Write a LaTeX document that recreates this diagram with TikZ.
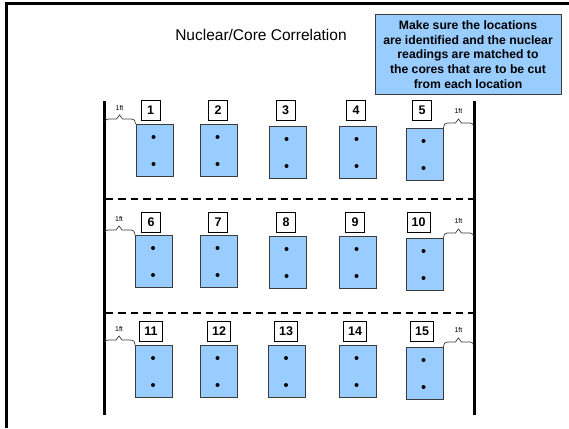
\documentclass[tikz,border=0pt]{standalone}
\usepackage{fontspec}
\setmainfont{Liberation Sans}
\usetikzlibrary{calc}
\definecolor{coreblue}{RGB}{153,204,255}
\definecolor{edgegray}{RGB}{60,60,60}

% brace from a core's top-left corner to the left rail, with its "1ft" tag
\newcommand\braceleft[1]{%
  \draw[bracepath] (#1.north west) .. controls +(-1,-4) and +(3,0) .. ++(-4,-5)
    -- ++(-9,0) -- ++(-3,-4) -- ++(-3,4) -- ++(-8,0)
    .. controls +(-2,0) and +(0,-1) .. ++(-3,2);
  \node[fttag] at ($(#1.north west)+(-16,-16)$) {1ft};}
% brace from a core's top-right corner to the right rail, with its "1ft" tag
\newcommand\braceright[1]{%
  \draw[bracepath] (#1.north east) .. controls +(1,-4) and +(-3,0) .. ++(4,-5)
    -- ++(8,0) -- ++(3,-4) -- ++(3,4) -- ++(9,0)
    .. controls +(2,0) and +(0,-1) .. ++(3,3);
  \node[fttag] at ($(#1.north east)+(15,-17)$) {1ft};}

\begin{document}
\begin{tikzpicture}[x=1pt,y=-1pt,
  core/.style={draw=edgegray, fill=coreblue, line width=0.9pt,
    minimum width=37pt, minimum height=52pt, inner sep=0pt, anchor=north},
  numbox/.style={draw=black, fill=white, line width=0.8pt,
    minimum width=19pt, minimum height=20pt, inner xsep=4.5pt, inner ysep=0pt,
    font=\bfseries\fontsize{12.5}{12.5}\selectfont},
  rail/.style={line width=3pt},
  rowline/.style={line width=2pt, dash pattern=on 7.5pt off 5pt},
  bracepath/.style={line width=0.7pt, draw=edgegray},
  fttag/.style={inner sep=0pt, font=\fontsize{7}{7}\selectfont},
  dotmark/.style={fill=black}]

\useasboundingbox (0,0) rectangle (569,428);

% slide frame (top and left edges)
\draw[line width=3pt] (6.3,428) -- (6.3,3.2) -- (570,3.2);

% title
\node[anchor=base, inner sep=0pt, font=\fontsize{15.5}{15.5}\selectfont]
  (title) at (261,40.5) {Nuclear/Core Correlation};

% note box
\node[draw=edgegray, fill=coreblue, line width=0.8pt,
  minimum width=186pt, minimum height=80pt, inner sep=0pt, align=center,
  font=\bfseries\fontsize{12.2}{14.75}\selectfont] (note) at (468,54.5)
  {Make sure the locations\\are identified and the nuclear\\readings are matched to\\the cores that are to be cut\\from each location};

% side rails and row separators
\coordinate (railLtop) at (104,101);
\coordinate (railLbot) at (104,415);
\coordinate (railRtop) at (474,101);
\coordinate (railRbot) at (474,415);
\draw[rail] (railLtop) -- (railLbot);
\draw[rail] (railRtop) -- (railRbot);
\draw[rowline] (105.5,199) -- (472.5,199);
\draw[rowline] (105.5,313) -- (472.5,313);

% cores (top centre given)
\foreach \n/\cx/\ty in {1/154.5/124, 2/218.5/124, 3/287.5/126, 4/357.5/126, 5/424.5/128,
                        6/154/235, 7/218.5/235, 8/287.5/236, 9/357.5/236, 10/424.5/238,
                        11/154/345, 12/218.5/345, 13/287/345, 14/357.5/345, 15/424.5/347}
{
  \node[core] (c\n) at (\cx,\ty) {};
  \fill[dotmark] ($(c\n.north)+(-1,13)$) circle (2pt);
  \fill[dotmark] ($(c\n.north)+(-1,40)$) circle (2pt);
}

% location numbers
\foreach \n/\cx/\cy in {1/150.5/110, 2/218/110, 3/285.5/110, 4/356/110, 5/422/110,
                        6/151/222, 7/218/222, 8/286/222, 9/355/222, 10/418.5/222,
                        11/151/331, 12/219/331, 13/286/331, 14/355/331, 15/422/331}
{
  \node[numbox] (n\n) at (\cx,\cy) {\n};
}

% 1 ft spacing braces
\braceleft{c1}
\braceleft{c6}
\braceleft{c11}
\braceright{c5}
\braceright{c10}
\braceright{c15}
\end{tikzpicture}
\end{document}
